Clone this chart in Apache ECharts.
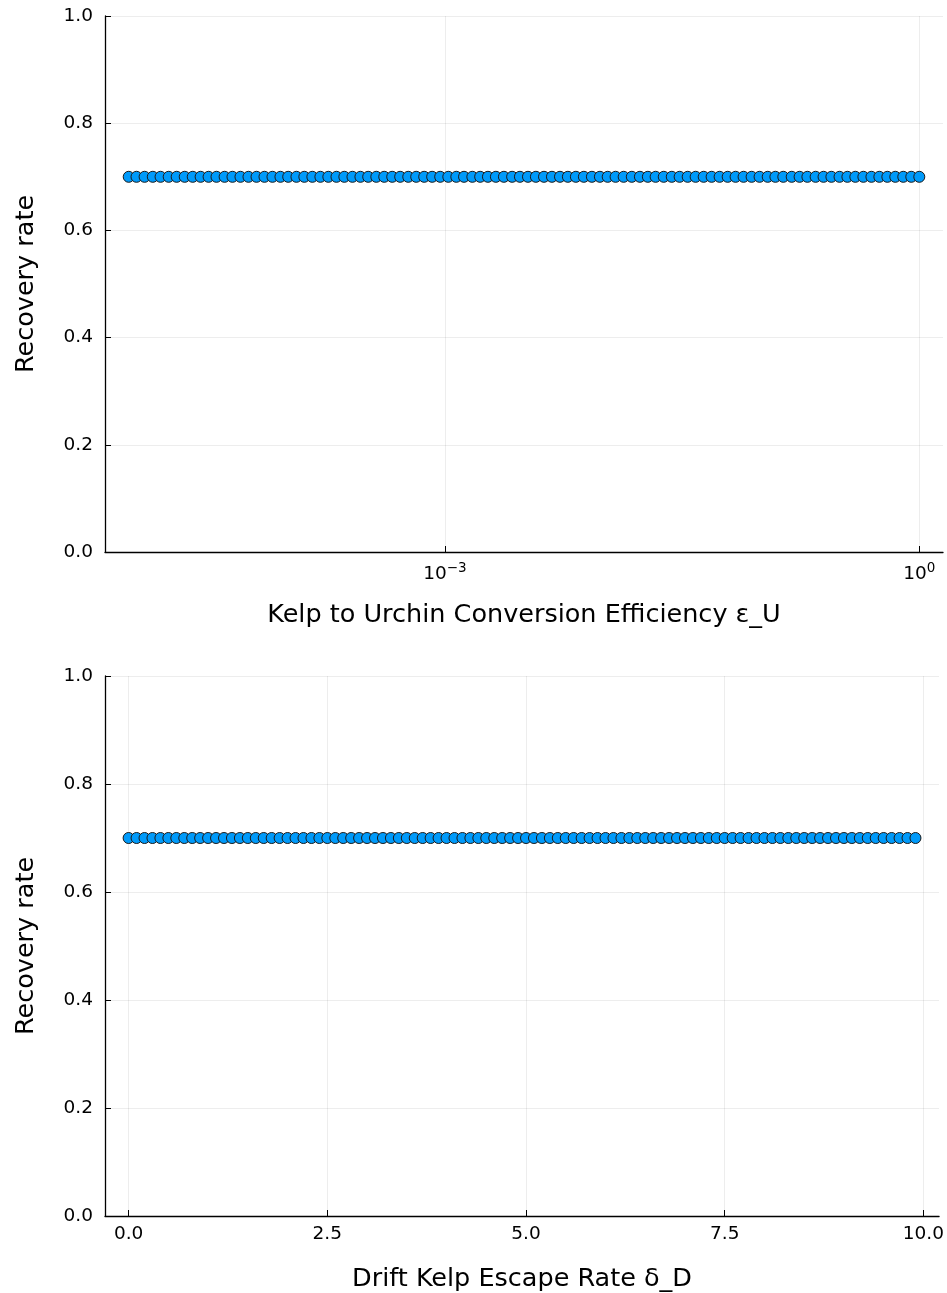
<!DOCTYPE html>
<html>
<head>
<meta charset="utf-8">
<script src="https://cdn.jsdelivr.net/npm/echarts@6/dist/echarts.min.js"></script>
<style>
  html, body { margin: 0; padding: 0; background: #fff; }
  #chart { width: 947px; height: 1293px; }
</style>
</head>
<body>
<div id="chart"></div>
<script>
// top panel: epsilon_U sweep (log spaced, 1e-5 .. 1)
const epsU = [
  1.00e-5, 1.12e-5, 1.26e-5, 1.42e-5, 1.59e-5, 1.79e-5, 2.01e-5, 2.26e-5, 2.54e-5, 2.85e-5,
  3.20e-5, 3.59e-5, 4.04e-5, 4.53e-5, 5.09e-5, 5.72e-5, 6.43e-5, 7.22e-5, 8.11e-5, 9.11e-5,
  1.02e-4, 1.15e-4, 1.29e-4, 1.45e-4, 1.63e-4, 1.83e-4, 2.06e-4, 2.31e-4, 2.60e-4, 2.92e-4,
  3.27e-4, 3.68e-4, 4.13e-4, 4.64e-4, 5.21e-4, 5.86e-4, 6.58e-4, 7.39e-4, 8.30e-4, 9.33e-4,
  1.05e-3, 1.18e-3, 1.32e-3, 1.49e-3, 1.67e-3, 1.87e-3, 2.10e-3, 2.36e-3, 2.66e-3, 2.98e-3,
  3.35e-3, 3.76e-3, 4.23e-3, 4.75e-3, 5.34e-3, 5.99e-3, 6.73e-3, 7.56e-3, 8.50e-3, 9.55e-3,
  1.07e-2, 1.20e-2, 1.35e-2, 1.52e-2, 1.71e-2, 1.92e-2, 2.15e-2, 2.42e-2, 2.72e-2, 3.05e-2,
  3.43e-2, 3.85e-2, 4.33e-2, 4.86e-2, 5.46e-2, 6.14e-2, 6.89e-2, 7.74e-2, 8.70e-2, 9.77e-2,
  1.10e-1, 1.23e-1, 1.38e-1, 1.56e-1, 1.75e-1, 1.96e-1, 2.21e-1, 2.48e-1, 2.78e-1, 3.13e-1,
  3.51e-1, 3.94e-1, 4.43e-1, 4.98e-1, 5.59e-1, 6.28e-1, 7.05e-1, 7.92e-1, 8.90e-1, 1.00
];
const recoveryEps = [
  0.7, 0.7, 0.7, 0.7, 0.7, 0.7, 0.7, 0.7, 0.7, 0.7,
  0.7, 0.7, 0.7, 0.7, 0.7, 0.7, 0.7, 0.7, 0.7, 0.7,
  0.7, 0.7, 0.7, 0.7, 0.7, 0.7, 0.7, 0.7, 0.7, 0.7,
  0.7, 0.7, 0.7, 0.7, 0.7, 0.7, 0.7, 0.7, 0.7, 0.7,
  0.7, 0.7, 0.7, 0.7, 0.7, 0.7, 0.7, 0.7, 0.7, 0.7,
  0.7, 0.7, 0.7, 0.7, 0.7, 0.7, 0.7, 0.7, 0.7, 0.7,
  0.7, 0.7, 0.7, 0.7, 0.7, 0.7, 0.7, 0.7, 0.7, 0.7,
  0.7, 0.7, 0.7, 0.7, 0.7, 0.7, 0.7, 0.7, 0.7, 0.7,
  0.7, 0.7, 0.7, 0.7, 0.7, 0.7, 0.7, 0.7, 0.7, 0.7,
  0.7, 0.7, 0.7, 0.7, 0.7, 0.7, 0.7, 0.7, 0.7, 0.7
];

// bottom panel: delta_D sweep
const deltaD = [
  0.0, 0.1, 0.2, 0.3, 0.4, 0.5, 0.6, 0.7, 0.8, 0.9,
  1.0, 1.1, 1.2, 1.3, 1.4, 1.5, 1.6, 1.7, 1.8, 1.9,
  2.0, 2.1, 2.2, 2.3, 2.4, 2.5, 2.6, 2.7, 2.8, 2.9,
  3.0, 3.1, 3.2, 3.3, 3.4, 3.5, 3.6, 3.7, 3.8, 3.9,
  4.0, 4.1, 4.2, 4.3, 4.4, 4.5, 4.6, 4.7, 4.8, 4.9,
  5.0, 5.1, 5.2, 5.3, 5.4, 5.5, 5.6, 5.7, 5.8, 5.9,
  6.0, 6.1, 6.2, 6.3, 6.4, 6.5, 6.6, 6.7, 6.8, 6.9,
  7.0, 7.1, 7.2, 7.3, 7.4, 7.5, 7.6, 7.7, 7.8, 7.9,
  8.0, 8.1, 8.2, 8.3, 8.4, 8.5, 8.6, 8.7, 8.8, 8.9,
  9.0, 9.1, 9.2, 9.3, 9.4, 9.5, 9.6, 9.7, 9.8, 9.9
];
const recoveryDelta = [
  0.7, 0.7, 0.7, 0.7, 0.7, 0.7, 0.7, 0.7, 0.7, 0.7,
  0.7, 0.7, 0.7, 0.7, 0.7, 0.7, 0.7, 0.7, 0.7, 0.7,
  0.7, 0.7, 0.7, 0.7, 0.7, 0.7, 0.7, 0.7, 0.7, 0.7,
  0.7, 0.7, 0.7, 0.7, 0.7, 0.7, 0.7, 0.7, 0.7, 0.7,
  0.7, 0.7, 0.7, 0.7, 0.7, 0.7, 0.7, 0.7, 0.7, 0.7,
  0.7, 0.7, 0.7, 0.7, 0.7, 0.7, 0.7, 0.7, 0.7, 0.7,
  0.7, 0.7, 0.7, 0.7, 0.7, 0.7, 0.7, 0.7, 0.7, 0.7,
  0.7, 0.7, 0.7, 0.7, 0.7, 0.7, 0.7, 0.7, 0.7, 0.7,
  0.7, 0.7, 0.7, 0.7, 0.7, 0.7, 0.7, 0.7, 0.7, 0.7,
  0.7, 0.7, 0.7, 0.7, 0.7, 0.7, 0.7, 0.7, 0.7, 0.7
];

const epsTicks = [0.001, 1];
const deltaTicks = [0, 2.5, 5, 7.5, 10];

const font = 'DejaVu Sans';
const gridLine = { show: true, lineStyle: { color: 'rgba(0,0,0,0.07)', width: 1 } };
const axisLine = { show: true, onZero: false, lineStyle: { color: '#000', width: 1.3 } };
const nameStyle = { fontFamily: font, fontSize: 25.5, color: '#000' };

function yAxis(idx) {
  return {
    gridIndex: idx,
    type: 'value',
    min: 0, max: 1, interval: 0.2,
    name: 'Recovery rate',
    nameLocation: 'middle',
    nameGap: 66,
    nameTextStyle: nameStyle,
    axisLine: axisLine,
    axisTick: { show: true, inside: true, length: 6, lineStyle: { color: '#000' } },
    axisLabel: { fontFamily: font, fontSize: 18.5, color: '#000', margin: 12,
      formatter: v => v.toFixed(1) },
    splitLine: gridLine
  };
}

function scatter(idx, xs, ys) {
  return {
    type: 'scatter',
    xAxisIndex: idx, yAxisIndex: idx,
    symbol: 'circle', symbolSize: 11,
    itemStyle: { color: '#009afa', borderColor: '#1a1a1a', borderWidth: 1, opacity: 1 },
    data: xs.map((x, i) => [x, ys[i]])
  };
}

const chart = echarts.init(document.getElementById('chart'));
chart.setOption({
  animation: false,
  backgroundColor: '#fff',
  grid: [
    { left: 105, right: 4, top: 16, height: 536 },
    { left: 105, right: 4, top: 676, height: 540 }
  ],
  xAxis: [
    {
      gridIndex: 0,
      type: 'log', logBase: 10,
      min: Math.pow(10, -5.15), max: Math.pow(10, 0.15),
      name: 'Kelp to Urchin Conversion Efficiency ε_U',
      nameLocation: 'middle', nameGap: 50,
      nameTextStyle: nameStyle,
      axisLine: axisLine,
      axisTick: { show: true, inside: true, length: 6, customValues: epsTicks, lineStyle: { color: '#000' } },
      axisLabel: {
        customValues: epsTicks, margin: 9,
        formatter: v => '{b|10}{s|' + Math.round(Math.log10(v)).toString().replace('-', '−') + '}',
        rich: {
          b: { fontFamily: font, fontSize: 18.5, color: '#000', verticalAlign: 'bottom' },
          s: { fontFamily: font, fontSize: 13.5, color: '#000', verticalAlign: 'bottom', padding: [0, 0, 9, 0] }
        }
      },
      splitLine: gridLine
    },
    {
      gridIndex: 1,
      type: 'value',
      min: -0.297, max: 10.197,
      name: 'Drift Kelp Escape Rate δ_D',
      nameLocation: 'middle', nameGap: 50,
      nameTextStyle: nameStyle,
      axisLine: axisLine,
      axisTick: { show: true, inside: true, length: 6, customValues: deltaTicks, lineStyle: { color: '#000' } },
      axisLabel: { customValues: deltaTicks, fontFamily: font, fontSize: 18.5, color: '#000', margin: 9,
        formatter: v => v.toFixed(1) },
      splitLine: gridLine
    }
  ],
  yAxis: [yAxis(0), yAxis(1)],
  series: [
    scatter(0, epsU, recoveryEps),
    scatter(1, deltaD, recoveryDelta)
  ]
});
</script>
</body>
</html>
